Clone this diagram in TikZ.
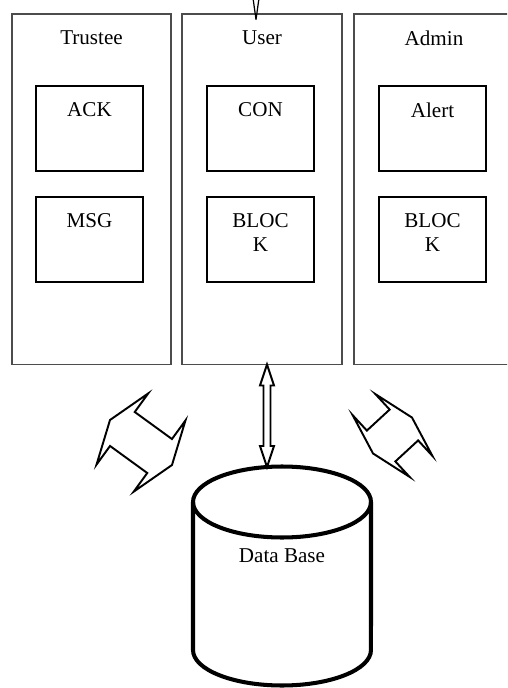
\documentclass[tikz,border=0pt]{standalone}
\usepackage{fontspec}
\setmainfont{Liberation Serif}
\usetikzlibrary{positioning, calc}
\tikzset{
  panel/.style={rectangle, draw=black!70, line width=0.6pt, minimum height=7.02cm,
                inner sep=0pt},
  box/.style={rectangle, draw, line width=1.1pt, minimum width=2.14cm,
              minimum height=1.7cm, inner sep=0pt},
  lbl/.style={anchor=north, inner sep=0pt, align=center,
              font=\fontsize{12}{14}\selectfont},
  hollow/.style={draw, line width=1.1pt, fill=white, line join=miter},
  fat/.style={draw, line width=1.1pt, line join=miter},
  dbline/.style={line width=2.3pt}
}

\begin{document}
\begin{tikzpicture}[x=0.02cm, y=-0.02cm]
  \useasboundingbox (0,0) rectangle (507,688);
  \clip (0,0) rectangle (507,688);
  % three columns
  \foreach \n/\x/\w/\t in {trustee/91.5/159/Trustee, user/262/160/User, admin/434/160/Admin} {
    \node[panel, minimum width=\w*0.02cm] (\n) at (\x,189.5) {};
    \node[lbl] (\n-t) at ($(\n.north)+(0,17)$) {\t};
  }
  % inner boxes
  \foreach \n/\x/\y/\t in {ack/89.5/128.5/ACK, msg/89.5/239.5/MSG,
      con/260.5/128.5/CON, blk1/260.5/239.5/{BLOC\\K},
      alert/432.5/128.5/Alert, blk2/432.5/239.5/{BLOC\\K}} {
    \node[box] (\n) at (\x,\y) {};
    \node[lbl] (\n-t) at ($(\n.north)+(0,17)$) {\t};
  }
  % data base
  \coordinate (dbc) at (282,502);
  \draw[dbline] ($(dbc)+(-89,0)$) -- ++(0,148)
    arc[start angle=180, end angle=360, x radius=1.78cm, y radius=0.71cm]
    -- ($(dbc)+(89,0)$);
  \draw[dbline] (dbc) ellipse[x radius=1.78cm, y radius=0.71cm];
  \node[lbl] (db) at (282,548) {Data Base};
  % user <-> data base
  \coordinate (ua) at ($(user.south)+(5,-1)$);
  \coordinate (dbin) at (267,467);
  \draw[hollow] (ua) -- ++(7,21) -- ++(-3.5,0) -- ($(dbin)+(3.5,-21)$) -- ++(3.5,0)
    -- (dbin) -- ++(-7,-21) -- ++(3.5,0) -- ($(ua)+(-3.5,21)$) -- ++(-3.5,0) -- cycle;
  % incoming arrow at the top
  \coordinate (uin) at ($(user.north)+(-6,6)$);
  \draw[hollow, line width=0.7pt, line join=round] (uin) -- ++(7,-50) -- ++(-3.5,0)
    -- ++(0,-40) -- ++(-7,0) -- ++(0,40) -- ++(-3.5,0) -- cycle;
  % side arrows
  \foreach \cx/\cy/\r/\L/\K/\H/\S in {141/442.5/-36/38.3/23/44/21,
      392.5/435.5/42.7/26.5/15.5/42/21} {
    \draw[fat, shift={(\cx,\cy)}, rotate=\r] (-\L,0) -- (-\K,\H) -- (-\K,\S)
      -- (\K,\S) -- (\K,\H) -- (\L,0) -- (\K,-\H) -- (\K,-\S) -- (-\K,-\S)
      -- (-\K,-\H) -- cycle;
  }
\end{tikzpicture}
\end{document}
